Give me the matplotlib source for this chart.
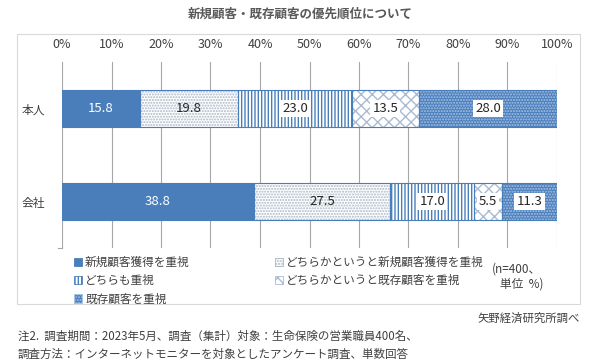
import matplotlib
matplotlib.use("Agg")
import matplotlib.pyplot as plt
from matplotlib.patches import Rectangle, Patch

plt.rcParams['font.family'] = ['Noto Sans CJK JP', 'DejaVu Sans']
plt.rcParams['hatch.linewidth'] = 1.0

# ---- data ----
categories = ['本人', '会社']
series = ['新規顧客獲得を重視', 'どちらかというと新規顧客獲得を重視', 'どちらも重視',
          'どちらかというと既存顧客を重視', '既存顧客を重視']
vals_honnin = [15.8, 19.8, 23.0, 13.5, 28.0]
vals_kaisha = [38.8, 27.5, 17.0, 5.5, 11.3]
tick_vals = [0, 10, 20, 30, 40, 50, 60, 70, 80, 90, 100]
title = '新規顧客・既存顧客の優先順位について'
unit_note = '(n=400、\n   単位  %)'
source = '矢野経済研究所調べ'
note1 = '注2.  調査期間：2023年5月、調査（集計）対象：生命保険の営業職員400名、'
note2 = '調査方法：インターネットモニターを対象としたアンケート調査、単数回答'

# ---- styles ----
BLUE = '#4a7ebb'
TXT = '#404040'
styles = [
    dict(facecolor=BLUE, hatch=None, hcolor=BLUE),
    dict(facecolor='white', hatch='......', hcolor='#a9b6c6'),
    dict(facecolor='white', hatch='|||||', hcolor=BLUE),
    dict(facecolor='white', hatch='xxx', hcolor='#a9bbd3'),
    dict(facecolor=BLUE, hatch='......', hcolor='#a8c3e6'),
]
label_style = ['white', 'plain', 'box', 'box', 'box']

W, H = 600, 362
fig = plt.figure(figsize=(W / 100, H / 100), dpi=100)

def fx(px):
    return px / W

def fy(py):
    return 1 - py / H

# outer frame
fig.patches.append(Rectangle((fx(17), fy(304)), fx(580) - fx(17), fy(34) - fy(304),
                             transform=fig.transFigure, fill=False,
                             edgecolor='#d9d9d9', lw=0.8))

fig.text(0.5, fy(14), title, ha='center', va='center', fontsize=9,
         fontweight='bold', color='#595959')

ax = fig.add_axes([fx(62), fy(248), fx(557) - fx(62), fy(62) - fy(248)])

data = [vals_honnin, vals_kaisha]
ypos = [0, 1]
bar_h = 0.4
for yi, vals in zip(ypos, data):
    left = 0
    for si, v in enumerate(vals):
        st = styles[si]
        ax.barh(yi, v, left=left, height=bar_h, color=st['facecolor'],
                hatch=st['hatch'], edgecolor=st['hcolor'], lw=0, zorder=2)
        ax.barh(yi, v, left=left, height=bar_h, fill=False,
                edgecolor=BLUE, lw=0.8, zorder=3)
        cx = left + v / 2
        ls = label_style[si]
        if ls == 'white':
            ax.text(cx, yi, f'{v:.1f}', ha='center', va='center',
                    fontsize=9.5, color='white', zorder=4)
        elif ls == 'plain':
            ax.text(cx, yi, f'{v:.1f}', ha='center', va='center',
                    fontsize=9.5, color='#262626', zorder=4)
        else:
            ax.text(cx, yi, f'{v:.1f}', ha='center', va='center',
                    fontsize=9.5, color='#262626', zorder=4,
                    bbox=dict(facecolor='white', edgecolor='none', pad=1.5))
        left += v

ax.set_xlim(0, 100)
ax.set_ylim(1.5, -0.5)
ax.set_xticks(tick_vals)
ax.set_xticklabels([f'{t}%' for t in tick_vals])
ax.xaxis.set_ticks_position('top')
ax.tick_params(axis='x', length=0, pad=8, labelsize=9, colors=TXT)
ax.set_yticks(ypos)
ax.set_yticklabels(categories)
ax.tick_params(axis='y', length=0, pad=12, labelsize=8.5, colors=TXT)
ax.grid(axis='x', color='#a6a6a6', lw=0.8)
ax.set_axisbelow(True)
for s in ax.spines.values():
    s.set_visible(False)
ax.plot([-0.8, 0], [1.5, 1.5], color='#a6a6a6', lw=0.8, clip_on=False)

# legends
def handle(i):
    st = styles[i]
    return Patch(facecolor=st['facecolor'], hatch=st['hatch'],
                 edgecolor=st['hcolor'], lw=0.6)

leg_kw = dict(frameon=False, fontsize=8.4, handlelength=0.7, handleheight=0.7,
              handletextpad=0.25, labelspacing=0.45, borderpad=0, borderaxespad=0,
              labelcolor=TXT)
idx1 = [0, 2, 4]
idx2 = [1, 3]
l1 = fig.legend([handle(i) for i in idx1], [series[i] for i in idx1],
                loc='upper left', bbox_to_anchor=(fx(74), fy(256)), **leg_kw)
l2 = fig.legend([handle(i) for i in idx2], [series[i] for i in idx2],
                loc='upper left', bbox_to_anchor=(fx(275), fy(256)), **leg_kw)

fig.text(fx(492), fy(277), unit_note, ha='left', va='center', fontsize=8.5,
         color=TXT, linespacing=1.2)

fig.text(fx(580), fy(318), source, ha='right', va='center', fontsize=8.2, color=TXT)
fig.text(fx(18), fy(336), note1, ha='left', va='center', fontsize=8.3, color=TXT)
fig.text(fx(18), fy(354), note2, ha='left', va='center', fontsize=8.3, color=TXT)

fig.savefig('out.png', dpi=100)
